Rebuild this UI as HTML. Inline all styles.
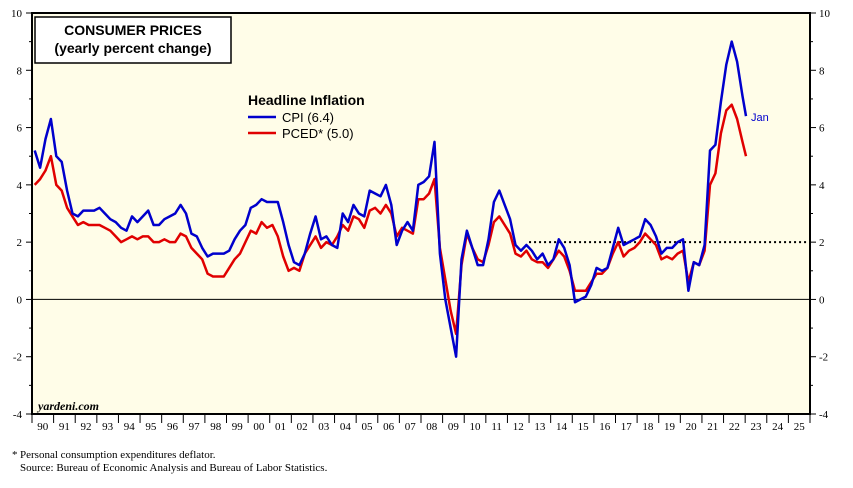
<!DOCTYPE html>
<html><head><meta charset="utf-8"><style>
body{margin:0;background:#fff;width:853px;height:483px;overflow:hidden}
svg text{font-family:"Liberation Serif",serif}
.s{font-family:"Liberation Sans",sans-serif}
</style></head><body>
<svg id="c" width="853" height="483">
<rect x="32" y="13" width="778" height="401" fill="#fffde8" stroke="#000" stroke-width="2"/>
<g id="axes"></g>
<g id="series"></g>
<rect x="35" y="17" width="196" height="46" fill="#fff" stroke="#000" stroke-width="1.5"/>
<text class="s" x="133" y="35" font-size="14" font-weight="bold" text-anchor="middle">CONSUMER PRICES</text>
<text class="s" x="133" y="53" font-size="14" font-weight="bold" text-anchor="middle">(yearly percent change)</text>
<text class="s" x="248" y="105" font-size="14" font-weight="bold">Headline Inflation</text>
<line x1="248" y1="117" x2="276" y2="117" stroke="#0000cc" stroke-width="2.5"/>
<text class="s" x="282" y="122" font-size="13">CPI (6.4)</text>
<line x1="248" y1="133" x2="276" y2="133" stroke="#e00000" stroke-width="2.5"/>
<text class="s" x="282" y="138" font-size="13">PCED* (5.0)</text>
<text class="s" x="751" y="121" font-size="11" fill="#0000cc">Jan</text>
<text x="38" y="410" font-size="12" font-style="italic" font-weight="bold">yardeni.com</text>
<text x="12" y="458" font-size="11">*</text>
<text x="20" y="458" font-size="11">Personal consumption expenditures deflator.</text>
<text x="20" y="471" font-size="11">Source: Bureau of Economic Analysis and Bureau of Labor Statistics.</text>
</svg>
<script>
const yearLabels=["90","91","92","93","94","95","96","97","98","99","00","01","02","03","04","05","06","07","08","09","10","11","12","13","14","15","16","17","18","19","20","21","22","23","24","25"];
const yTicks=[-4,-2,0,2,4,6,8,10];
const cpi=[5.2,4.6,5.6,6.3,5.0,4.8,3.8,3.0,2.9,3.1,3.1,3.1,3.2,3.0,2.8,2.7,2.5,2.4,2.9,2.7,2.9,3.1,2.6,2.6,2.8,2.9,3.0,3.3,3.0,2.3,2.2,1.8,1.5,1.6,1.6,1.6,1.7,2.1,2.4,2.6,3.2,3.3,3.5,3.4,3.4,3.4,2.7,1.9,1.3,1.2,1.6,2.3,2.9,2.1,2.2,1.9,1.8,3.0,2.7,3.3,3.0,2.9,3.8,3.7,3.6,4.0,3.3,1.9,2.4,2.7,2.4,4.0,4.1,4.3,5.5,1.6,0.0,-1.0,-2.0,1.4,2.4,1.8,1.2,1.2,2.1,3.4,3.8,3.3,2.8,1.9,1.7,1.9,1.7,1.4,1.6,1.2,1.4,2.1,1.8,1.2,-0.1,0.0,0.1,0.5,1.1,1.0,1.1,1.8,2.5,1.9,2.0,2.1,2.2,2.8,2.6,2.2,1.6,1.8,1.8,2.0,2.1,0.3,1.3,1.2,1.9,5.2,5.4,6.9,8.2,9.0,8.3,7.1,6.4];
const pced=[4.0,4.2,4.5,5.0,4.0,3.8,3.2,2.9,2.6,2.7,2.6,2.6,2.6,2.5,2.4,2.2,2.0,2.1,2.2,2.1,2.2,2.2,2.0,2.0,2.1,2.0,2.0,2.3,2.2,1.8,1.6,1.4,0.9,0.8,0.8,0.8,1.1,1.4,1.6,2.0,2.4,2.3,2.7,2.5,2.6,2.2,1.5,1.0,1.1,1.0,1.6,1.9,2.2,1.8,2.0,1.9,2.2,2.6,2.4,2.9,2.8,2.5,3.1,3.2,3.0,3.3,3.0,2.2,2.5,2.4,2.3,3.5,3.5,3.7,4.2,1.8,0.7,-0.4,-1.2,1.2,2.3,1.8,1.4,1.3,1.9,2.7,2.9,2.6,2.3,1.6,1.5,1.7,1.4,1.3,1.3,1.1,1.4,1.7,1.5,1.0,0.3,0.3,0.3,0.6,0.9,0.9,1.1,1.6,2.0,1.5,1.7,1.8,2.0,2.3,2.1,1.9,1.4,1.5,1.4,1.6,1.7,0.6,1.3,1.2,1.7,4.0,4.4,5.8,6.6,6.8,6.3,5.5,5.0];
const NS="http://www.w3.org/2000/svg";
const X=t=>32+21.611*t, Y=v=>13+(10-v)*28.643;
const tx=i=>i<132?i/4+0.125:33.04;
const ax=document.getElementById('axes'), sr=document.getElementById('series');
function mk(tag,at,p){const e=document.createElementNS(NS,tag);for(const k in at)e.setAttribute(k,at[k]);p.appendChild(e);return e;}
for(let v=-4;v<=10;v++){
 const len=v%2===0?6:3;
 mk('line',{x1:32-len,x2:32,y1:Y(v),y2:Y(v),stroke:'#000'},ax);
 mk('line',{x1:810,x2:810+len,y1:Y(v),y2:Y(v),stroke:'#000'},ax);
}
yTicks.forEach(v=>{
 let t=mk('text',{x:22,y:Y(v)+4,'font-size':11,'text-anchor':'end'},ax);t.textContent=v;
 
 
 let r=mk('text',{x:819,y:Y(v)+4,'font-size':11},ax);r.textContent=v;
 
 
});
const z=mk('line',{x1:32,x2:810,y1:Y(0),y2:Y(0),stroke:'#000','stroke-width':1},ax);


const d=mk('line',{x1:X(23),x2:810,y1:Y(2),y2:Y(2),stroke:'#000','stroke-width':2,'stroke-dasharray':'2,3'},ax);


yearLabels.forEach((l,i)=>{
 mk('line',{x1:X(i),x2:X(i),y1:414,y2:423,stroke:'#000'},ax);
 const t=mk('text',{x:X(i+0.5),y:430,'font-size':11,'text-anchor':'middle'},ax);t.textContent=l;
 
 
});
mk('line',{x1:810,x2:810,y1:414,y2:423,stroke:'#000'},ax);
function line(arr,col,name){
 const p=mk('polyline',{points:arr.map((v,i)=>X(tx(i)).toFixed(1)+','+Y(v).toFixed(1)).join(' '),fill:'none',stroke:col,'stroke-width':2.5,'stroke-linejoin':'round'},sr);
 
 
}
line(pced,'#e00000','pced-line');
line(cpi,'#0000cc','cpi-line');
</script>
</body></html>
